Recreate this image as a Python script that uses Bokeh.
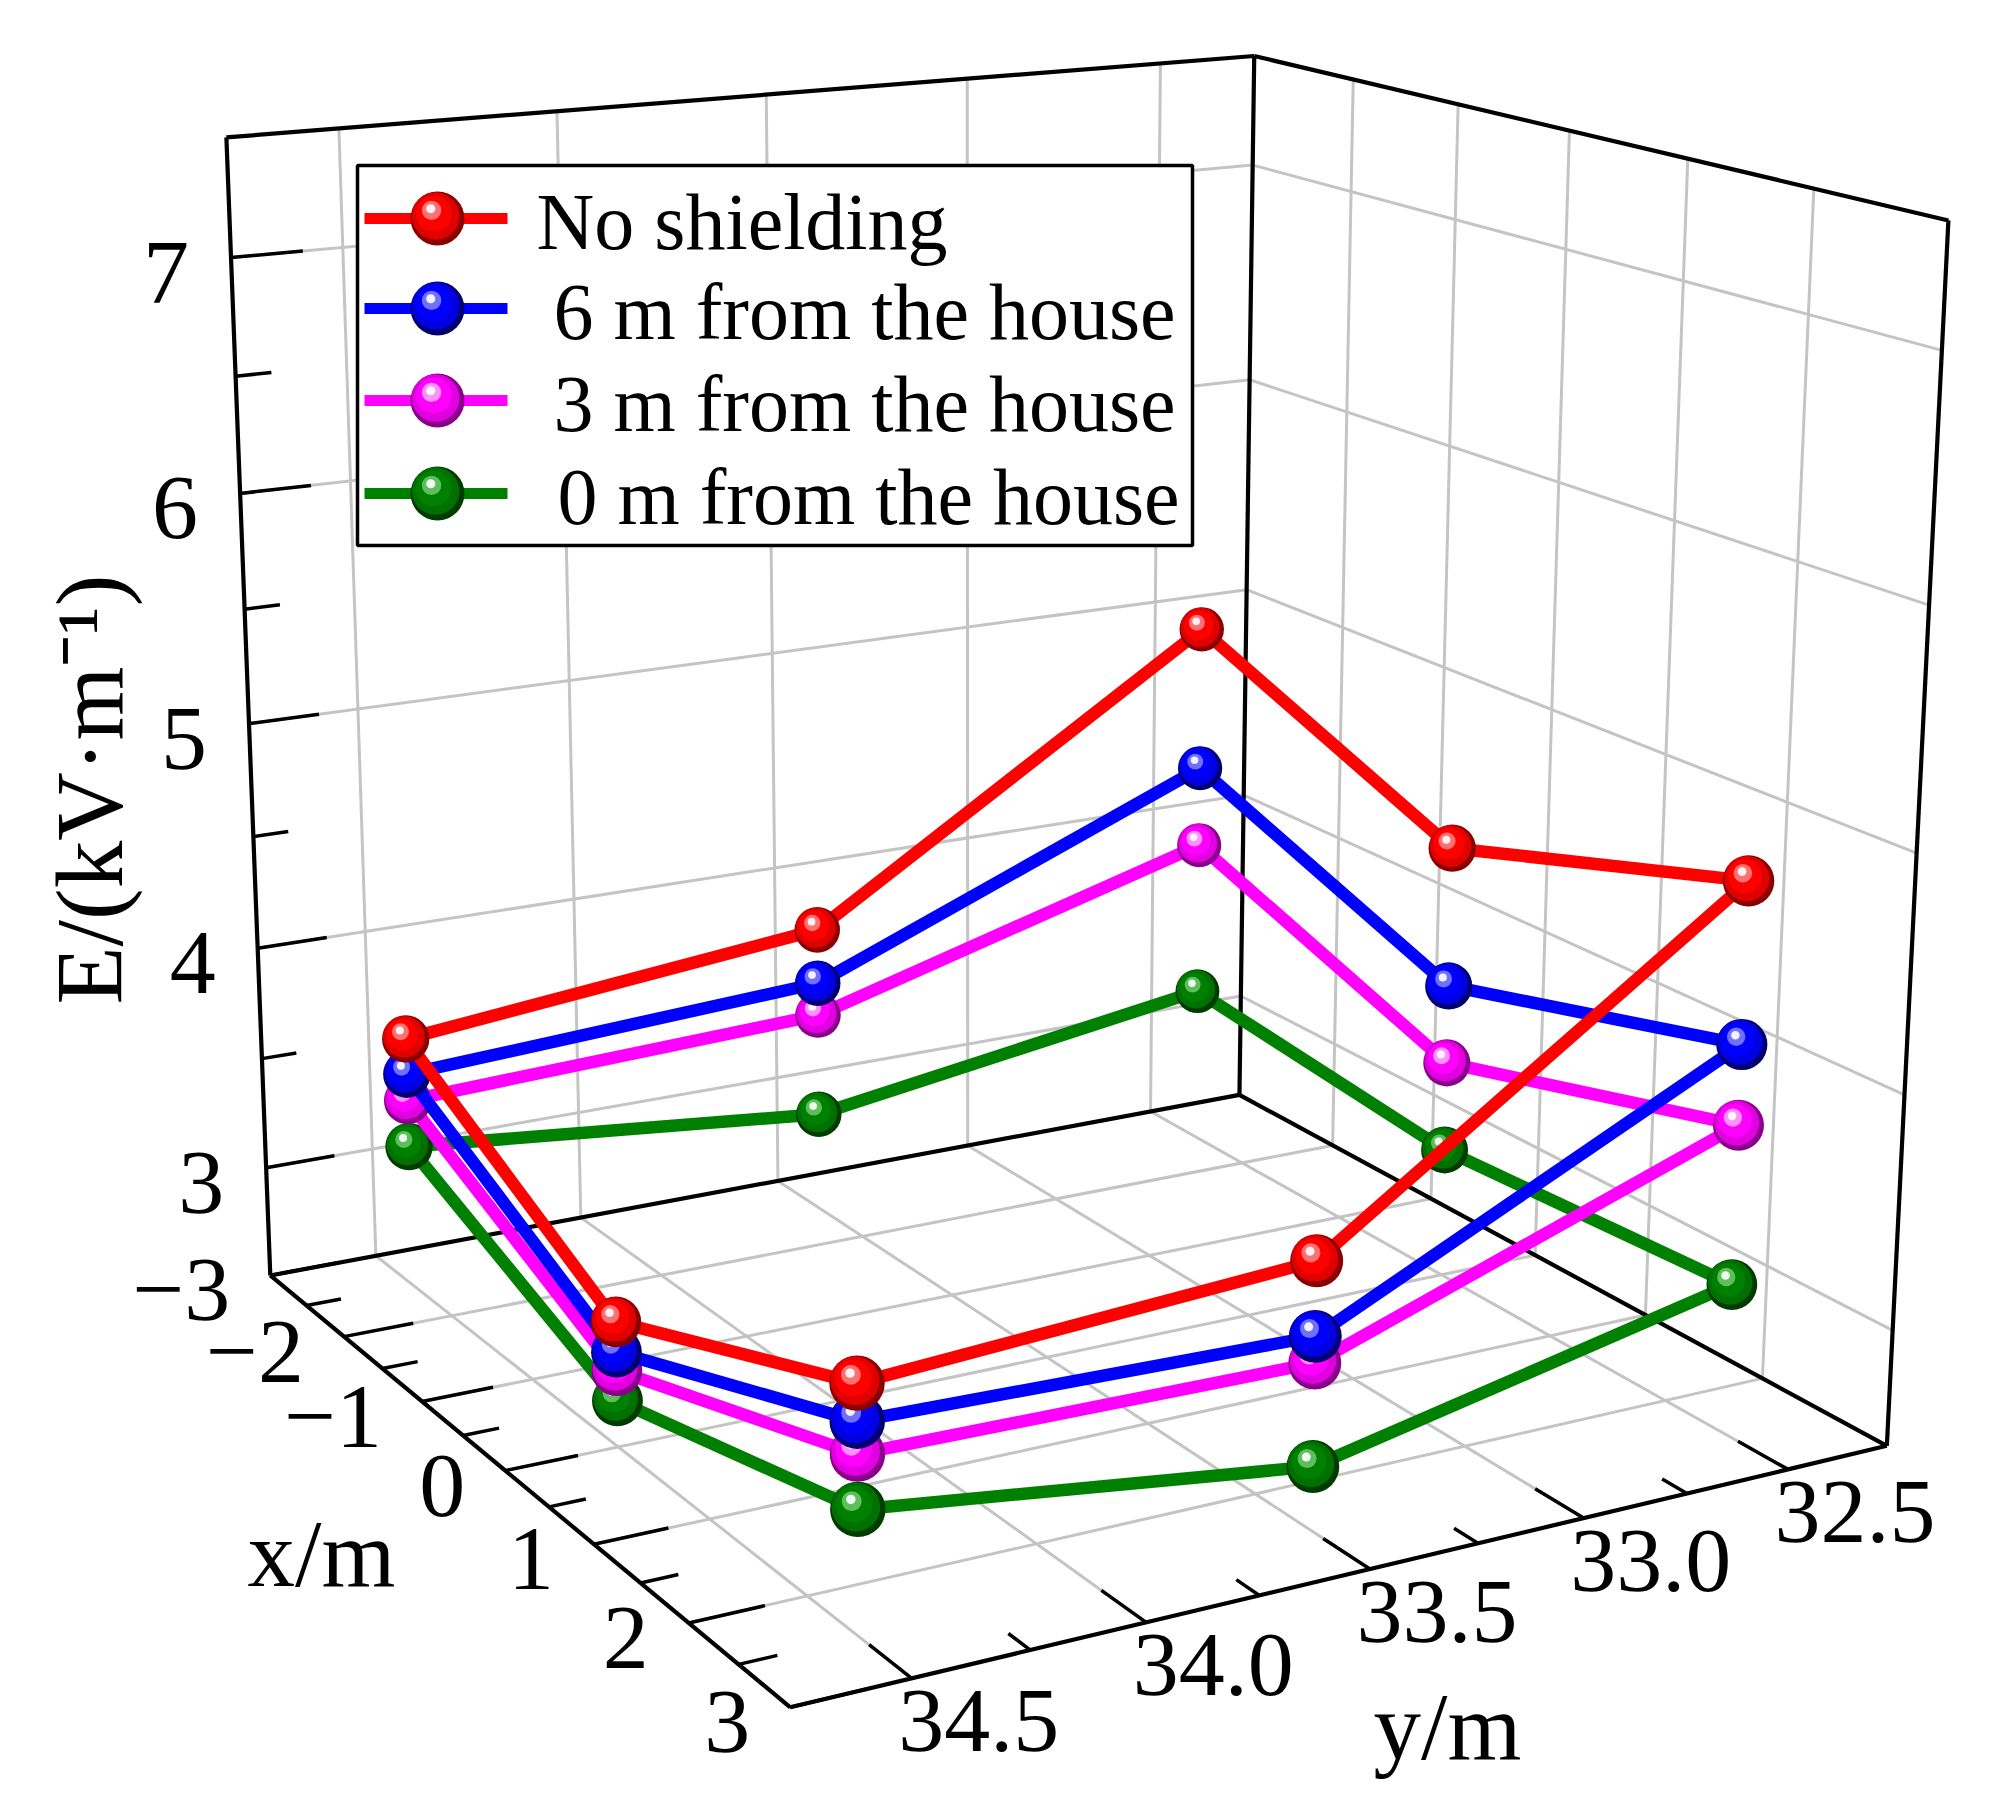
import numpy as np
from bokeh.plotting import figure
from bokeh.models import Range1d
from bokeh.embed import file_html
from bokeh.resources import INLINE
from bokeh.core.properties import value

FONT = "Liberation Serif"

# ---------------- axes ----------------
x_lim = (-3.0, 3.0)
y_lim = (32.25, 34.75)
e_lim = (2.5, 7.5)
x_ticks = [-3, -2, -1, 0, 1, 2, 3]
x_tick_labels = ["\u22123", "\u22122", "\u22121", "0", "1", "2", "3"]
x_minor = [-2.5, -1.5, -0.5, 0.5, 1.5, 2.5]
y_ticks = [32.5, 33.0, 33.5, 34.0, 34.5]
y_tick_labels = ["32.5", "33.0", "33.5", "34.0", "34.5"]
y_minor = [32.75, 33.25, 33.75, 34.25]
e_ticks = [3, 4, 5, 6, 7]
e_tick_labels = ["3", "4", "5", "6", "7"]
e_minor = [3.5, 4.5, 5.5, 6.5]

# ---------------- data ----------------
series_names = ["No shielding", "6 m from the house", "3 m from the house", "0 m from the house"]
# measuring points around the house (closed loop)
station_x = [-2.5, -2.5, -2.5, 0.0, 2.5, 2.5, 2.5, 0.0]
station_y = [34.5, 33.5, 32.5, 32.5, 32.5, 33.5, 34.5, 34.5]
e_no_shielding = [3.63, 3.82, 4.96, 4.45, 4.85, 3.62, 3.51, 3.04]
e_6m = [3.47, 3.57, 4.30, 3.83, 4.17, 3.31, 3.36, 2.91]
e_3m = [3.35, 3.42, 3.93, 3.48, 3.83, 3.20, 3.23, 2.83]
e_0m = [3.14, 2.95, 3.22, 3.08, 3.15, 2.77, 3.01, 2.70]
e_series = [e_no_shielding, e_6m, e_3m, e_0m]

# ---------------- camera calibration (box corners / ticks -> page pixels) ----------------
cam_3d = [(-3, 34.75, 2.5), (-3, 34.75, 7.5), (-3, 32.25, 7.5), (3, 32.25, 7.5),
          (3, 32.25, 2.5), (3, 34.75, 2.5), (-3, 32.25, 2.5),
          (-3, 34.75, 7), (-3, 34.75, 6), (-3, 34.75, 5), (-3, 34.75, 4),
          (3, 32.5, 2.5), (3, 33.0, 2.5), (3, 33.5, 2.5), (3, 34.0, 2.5),
          (-3, 32.25, 7), (-3, 32.25, 6), (-3, 32.25, 5)]
cam_px = [(267.5, 1275), (223, 138), (1253, 56), (1949, 219),
          (1890, 1444), (792, 1707), (1240, 1094),
          (232, 257), (241, 491), (250, 723), (257, 948),
          (1783, 1470), (1581, 1518), (1368, 1569), (1147, 1622),
          (1250.5, 165), (1249.5, 379.5), (1248, 589)]

A = []
b = []
for (X, Y, Z), (u, v) in zip(cam_3d, cam_px):
    Y = Y - 33.5
    Z = Z - 5.0
    A.append([X, Y, Z, 1, 0, 0, 0, 0, -u * X, -u * Y, -u * Z]); b.append(u)
    A.append([0, 0, 0, 0, X, Y, Z, 1, -v * X, -v * Y, -v * Z]); b.append(v)
sol = np.linalg.lstsq(np.array(A, float), np.array(b, float), rcond=None)[0]
P = np.append(sol, 1.0).reshape(3, 4)


def project(x, y, e):
    x = np.atleast_1d(np.asarray(x, float))
    y = np.atleast_1d(np.asarray(y, float))
    e = np.atleast_1d(np.asarray(e, float))
    H = P @ np.vstack([x, y - 33.5, e - 5.0, np.ones_like(x)])
    return H[0] / H[2], H[1] / H[2], H[2]


# ---------------- figure ----------------
p = figure(width=1999, height=1803, x_range=Range1d(0, 1999), y_range=Range1d(1803, 0),
           output_backend="svg", toolbar_location=None, min_border=0,
           x_axis_type=None, y_axis_type=None)
p.grid.visible = False
p.outline_line_color = None
p.background_fill_color = "white"

GRID = "#c4c4c4"


def seg(a_pts, b_pts, color, width):
    a = np.array(a_pts, float)
    b = np.array(b_pts, float)
    u0, v0, _ = project(a[:, 0], a[:, 1], a[:, 2])
    u1, v1, _ = project(b[:, 0], b[:, 1], b[:, 2])
    p.segment(x0=u0, y0=v0, x1=u1, y1=v1, line_color=color, line_width=width)


x0, x1 = x_lim
y0, y1 = y_lim
e0, e1 = e_lim
# grid: left wall (x = x0)
seg([(x0, yy, e0) for yy in y_ticks], [(x0, yy, e1) for yy in y_ticks], GRID, 3)
seg([(x0, y1, ee) for ee in e_ticks], [(x0, y0, ee) for ee in e_ticks], GRID, 3)
# right wall (y = y0)
xin = [t for t in x_ticks if x0 < t < x1]
seg([(xx, y0, e0) for xx in xin], [(xx, y0, e1) for xx in xin], GRID, 3)
seg([(x0, y0, ee) for ee in e_ticks], [(x1, y0, ee) for ee in e_ticks], GRID, 3)
# floor
seg([(xx, y0, e0) for xx in xin], [(xx, y1, e0) for xx in xin], GRID, 3)
seg([(x0, yy, e0) for yy in y_ticks], [(x1, yy, e0) for yy in y_ticks], GRID, 3)

# ticks
seg([(x0, y1, ee) for ee in e_ticks], [(x0, y1 - 0.16, ee) for ee in e_ticks], "black", 3.5)
seg([(x0, y1, ee) for ee in e_minor], [(x0, y1 - 0.08, ee) for ee in e_minor], "black", 3.5)
seg([(xx, y1, e0) for xx in x_ticks], [(xx, y1 - 0.16, e0) for xx in x_ticks], "black", 3.5)
seg([(xx, y1, e0) for xx in x_minor], [(xx, y1 - 0.08, e0) for xx in x_minor], "black", 3.5)
seg([(x1, yy, e0) for yy in y_ticks], [(x1 - 0.4, yy, e0) for yy in y_ticks], "black", 3.5)
seg([(x1, yy, e0) for yy in y_minor], [(x1 - 0.2, yy, e0) for yy in y_minor], "black", 3.5)

# box edges
c_a = (x0, y1, e0); c_b = (x0, y1, e1); c_c = (x0, y0, e1); c_d = (x1, y0, e1)
c_e = (x1, y0, e0); c_f = (x1, y1, e0); c_g = (x0, y0, e0)
seg([c_a, c_b, c_c, c_d, c_c, c_a, c_g, c_a, c_f],
    [c_b, c_c, c_d, c_e, c_g, c_g, c_e, c_f, c_e], "black", 4.2)

# tick labels
TS = value("92px")
u, v, _ = project([x0] * 5, [y1] * 5, e_ticks)
p.text(x=u - 42, y=v + 15, text=e_tick_labels, text_font=value(FONT), text_font_size=TS,
       text_align="right", text_baseline="middle", text_color="black")
u, v, _ = project(x_ticks, [y1] * 7, [e0] * 7)
p.text(x=u - 40, y=v + 15, text=x_tick_labels, text_font=value(FONT), text_font_size=TS,
       text_align="right", text_baseline="middle", text_color="black")
u, v, _ = project([x1] * 5, y_ticks, [e0] * 5)
p.text(x=u + 67, y=v + 43, text=y_tick_labels, text_font=value(FONT), text_font_size=TS,
       text_align="center", text_baseline="middle", text_color="black")

# axis titles
p.text(x=[321], y=[1553], text=["x/m"], text_font=value(FONT), text_font_size=value("95px"),
       text_align="center", text_baseline="alphabetic")
p.text(x=[1447], y=[1726], text=["y/m"], text_font=value(FONT), text_font_size=value("95px"),
       text_align="center", text_baseline="alphabetic")
p.text(x=[89], y=[789], text=["E/(kV\u00b7m\u207b\u00b9)"], text_font=value(FONT),
       text_font_size=value("95px"), text_align="center", text_baseline="middle", angle=np.pi / 2)

# ---------------- series ----------------
line_colors = ["#ff0000", "#0000ff", "#ff00ff", "#008000"]
dark_colors = ["#8a0000", "#00006e", "#8a008a", "#003c00"]
mid_colors = ["#e00000", "#0000e0", "#e000e0", "#007000"]
light_colors = ["#ff7070", "#7070ff", "#ff90ff", "#5cbf5c"]


def sphere(u, v, r, s):
    p.circle(x=u, y=v, radius=r, fill_color=dark_colors[s], line_color=None)
    p.circle(x=u - 0.07 * r, y=v - 0.09 * r, radius=0.88 * r, fill_color=mid_colors[s], line_color=None)
    p.circle(x=u - 0.14 * r, y=v - 0.18 * r, radius=0.66 * r, fill_color=line_colors[s], line_color=None)
    p.circle(x=u - 0.22 * r, y=v - 0.3 * r, radius=0.36 * r, fill_color=light_colors[s], line_color=None)
    p.circle(x=u - 0.25 * r, y=v - 0.36 * r, radius=0.17 * r, fill_color="white", line_color=None, fill_alpha=0.9)


for s in [3, 2, 1, 0]:
    xx = station_x + station_x[:1]
    yy = station_y + station_y[:1]
    ee = e_series[s] + e_series[s][:1]
    u, v, w = project(xx, yy, ee)
    p.line(x=u, y=v, line_color=line_colors[s], line_width=12.5, line_join="round")
    u, v, w = project(station_x, station_y, e_series[s])
    r = 24.5 * np.median(w) / w
    sphere(u, v, r, s)

# legend
p.quad(left=[357], right=[1192], top=[165], bottom=[545], fill_color="white",
       line_color="black", line_width=3.5)
rows_v = [218, 308, 400, 493]
text_u = [536, 553, 553, 557]
for s in range(4):
    p.segment(x0=[364], y0=[rows_v[s]], x1=[507], y1=[rows_v[s]], line_color=line_colors[s], line_width=11)
    sphere(np.array([437.0]), np.array([rows_v[s]], float), np.array([27.0]), s)
p.text(x=text_u, y=[r_ + 3 for r_ in rows_v], text=series_names, text_font=value(FONT),
       text_font_size=value("80px"), text_align="left", text_baseline="middle")

open("out.html", "w").write(file_html(p, INLINE))
